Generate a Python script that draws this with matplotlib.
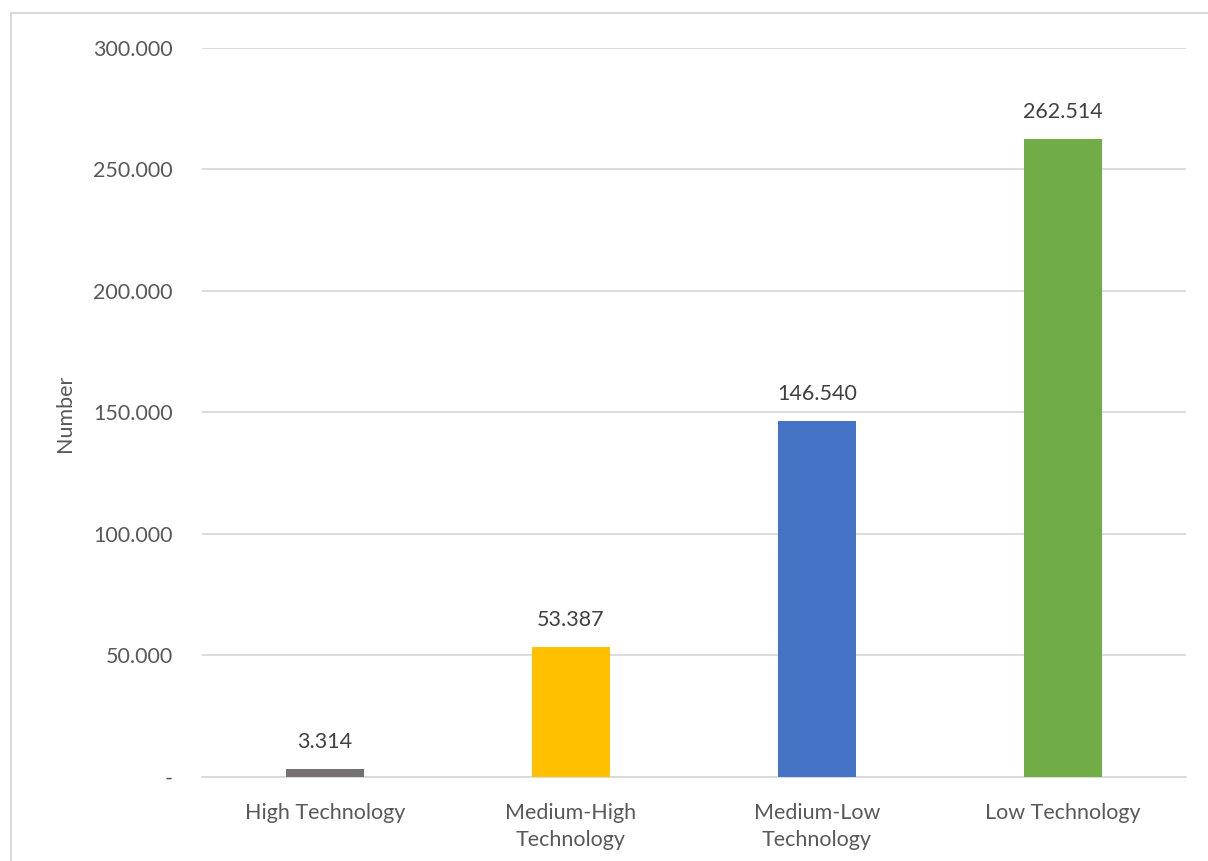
import matplotlib.pyplot as plt
from matplotlib.patches import Rectangle
import numpy as np

categories = ['High Technology', 'Medium-High\nTechnology', 'Medium-Low\nTechnology', 'Low Technology']
values = [3314, 53387, 146540, 262514]
colors = ['#767171', '#FFC000', '#4472C4', '#70AD47']
yticks = [0, 50000, 100000, 150000, 200000, 250000, 300000]

plt.rcParams['font.family'] = ['Lato', 'DejaVu Sans']


def fmt(v):
    if v == 0:
        return '-'
    return f'{v:,.0f}'.replace(',', '.')


fig = plt.figure(figsize=(12.08, 8.61), dpi=100)
ax = fig.add_axes([0.1672, 0.0976, 0.8146, 0.8467])

# chart frame
fig.patches.append(Rectangle((11 / 1208, -0.05), 1.2, 1 - 13 / 861 + 0.05,
                             transform=fig.transFigure, fill=False,
                             edgecolor='#D9D9D9', linewidth=1.5))

x = np.arange(len(categories))
ax.bar(x, values, width=0.317, color=colors, zorder=3)

for xi, v in zip(x, values):
    ax.text(xi, v + 7000, fmt(v), ha='center', va='bottom', fontsize=15.5, color='#404040')

ax.set_xlim(-0.5, len(categories) - 0.5)
ax.set_ylim(0, 300000)
ax.set_yticks(yticks)
ax.set_yticklabels([fmt(t) for t in yticks])
ax.set_xticks(x)
ax.set_xticklabels(categories, linespacing=1.45)
ax.tick_params(axis='both', length=0, labelsize=15.5, labelcolor='#595959')
ax.tick_params(axis='y', pad=21)
ax.tick_params(axis='x', pad=18.5)
ax.grid(axis='y', color='#D9D9D9', linewidth=1.3, zorder=0)
for side in ['top', 'left', 'right']:
    ax.spines[side].set_visible(False)
ax.spines['bottom'].set_color('#D9D9D9')
ax.spines['bottom'].set_linewidth(1.3)
fig.text(65 / 1208, 1 - 413 / 861, 'Number', rotation=90, ha='center', va='center',
         fontsize=15.5, color='#595959')

fig.savefig('out.png', dpi=100)
